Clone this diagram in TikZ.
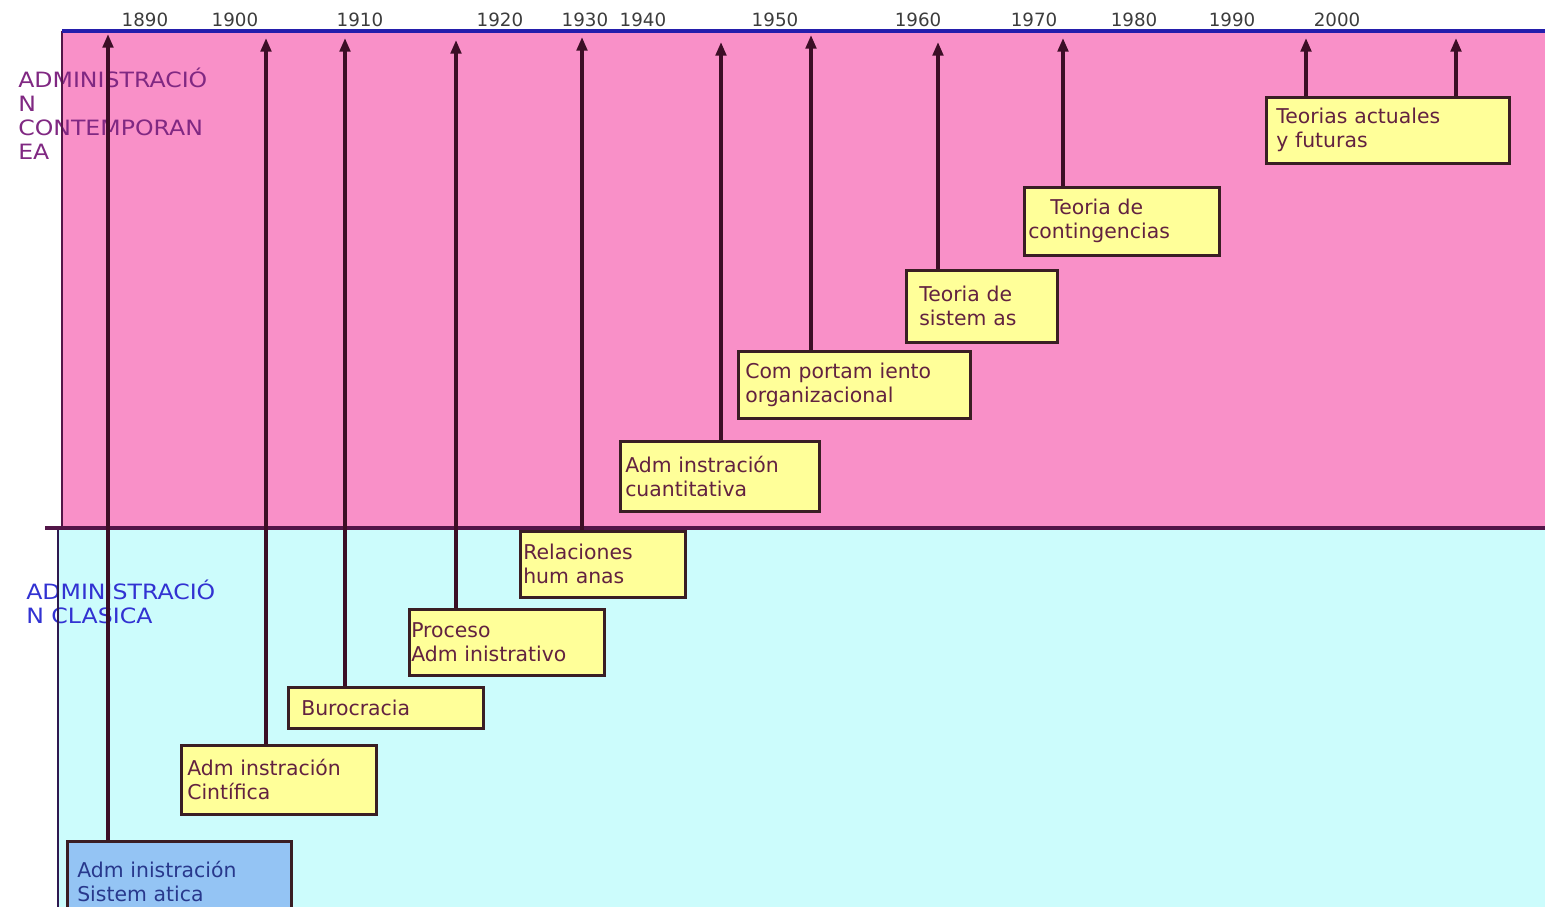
\documentclass[tikz,border=0pt]{standalone}
\usepackage{fontspec}
\setmainfont{DejaVu Sans}
\newfontfamily\etiqfont[FakeStretch=1.12]{DejaVu Sans}
\usetikzlibrary{arrows.meta,positioning}

\definecolor{rosa}{RGB}{249,144,200}
\definecolor{cian}{RGB}{204,252,252}
\definecolor{amarillo}{RGB}{255,255,153}
\definecolor{azulcaja}{RGB}{148,196,244}
\definecolor{borde}{RGB}{58,30,36}
\definecolor{linea}{RGB}{60,14,38}
\definecolor{azulraya}{RGB}{36,30,172}
\definecolor{divisor}{RGB}{82,22,72}
\definecolor{textocaja}{RGB}{98,34,64}
\definecolor{textoazul}{RGB}{40,56,140}
\definecolor{morado}{RGB}{128,40,130}
\definecolor{azuletiq}{RGB}{50,50,210}
\definecolor{gris}{RGB}{60,60,60}

\begin{document}
\begin{tikzpicture}[
		x=0.025cm, y=-0.025cm,
		hito/.style={draw=borde, line width=1.8pt, fill=amarillo, text=textocaja,
			anchor=north west, align=left, inner ysep=0pt,
			font=\fontsize{14.5}{17}\selectfont},
		flecha/.style={-{Triangle[length=0.34cm,width=0.26cm]}, line width=2.5pt, draw=linea},
		anio/.style={font=\fontsize{13}{15}\selectfont, text=gris},
		etiqueta/.style={anchor=north west, align=left, inner sep=0pt,
			font=\etiqfont\fontsize{15}{17}\selectfont}
	]
	\path[use as bounding box] (0,0) rectangle (1545,907);
	\clip (0,0) rectangle (1545,907);

	% fondos
	\fill[rosa] (62,31) rectangle (1545,528);
	\fill[cian] (58,528) rectangle (1545,907);

	% etiquetas de las dos etapas
	\node[etiqueta, text=morado] (contemp) at (18,68) {ADMINISTRACIÓ\\N\\CONTEMPORAN\\EA};
	\node[etiqueta, text=azuletiq] (clasica) at (26,580) {ADMINISTRACIÓ\\N CLASICA};

	% escala de anios
	\foreach \anio/\xpos in {1890/145,1900/235,1910/360,1920/500,1930/585,1940/643,
			1950/775,1960/918,1970/1034,1980/1134,1990/1232,2000/1337}
		\node[anio] (y\anio) at (\xpos,20) {\anio};

	% cajas
	\node[hito, fill=azulcaja, text=textoazul, inner xsep=0.25cm, text width=5.1cm, minimum height=2cm] (sist) at (66,840) {Adm inistración\\Sistem atica};
	\node[hito, inner xsep=0.15cm, text width=4.575cm, minimum height=1.725cm] (cient) at (180,744) {Adm instración\\Cintífica};
	\node[hito, inner xsep=0.325cm, text width=4.225cm, minimum height=1.025cm] (buro) at (287,686) {Burocracia};
	\node[hito, inner xsep=0.05cm, text width=4.775cm, minimum height=1.65cm] (proc) at (408,608) {Proceso\\Adm inistrativo};
	\node[hito, inner xsep=0.075cm, text width=3.975cm, minimum height=1.65cm] (rel) at (519,530) {Relaciones\\hum anas};
	\node[hito, inner xsep=0.125cm, text width=4.725cm, minimum height=1.75cm] (cuant) at (619,440) {Adm instración\\cuantitativa};
	\node[hito, inner xsep=0.175cm, text width=5.45cm, minimum height=1.675cm] (comp) at (737,350) {Com portam iento\\organizacional};
	\node[hito, inner xsep=0.325cm, text width=3.125cm, minimum height=1.8cm] (sistemas) at (905,269) {Teoria de\\sistem as};
	\node[hito, inner xsep=0.1cm, text width=4.675cm, minimum height=1.7cm] (cont) at (1023,186) {\hspace{0.55cm}Teoria de\\contingencias};
	\node[hito, inner xsep=0.25cm, text width=5.575cm, minimum height=1.65cm] (act) at (1265,96) {Teorias actuales\\y futuras};

	% bordes y lineas
	\draw[line width=1.6pt, draw=divisor] (62,31) -- (62,528);
	\draw[line width=1.6pt, draw=borde!80!blue] (58,528) -- (58,907);
	\draw[line width=2.4pt, draw=divisor] (45,528) -- (1545,528);
	\draw[line width=3pt, draw=azulraya] (62,31) -- (1545,31);

	% flechas hacia la escala
	\foreach \n/\xpos/\ypos in {a1/108/34,a2/266/38,a3/345/38,a4/456/40,a5/582/37,a6/721/42,
			a7/811/35,a8/938/42,a9/1063/38,a10/1306/38,a11/1456/38}
		\coordinate (\n) at (\xpos,\ypos);
	\foreach \caja/\punto in {sist/a1,cient/a2,buro/a3,proc/a4,rel/a5,cuant/a6,
			comp/a7,sistemas/a8,cont/a9,act/a10,act/a11}
		\draw[flecha] (\caja.north -| \punto) -- (\punto);
\end{tikzpicture}
\end{document}
